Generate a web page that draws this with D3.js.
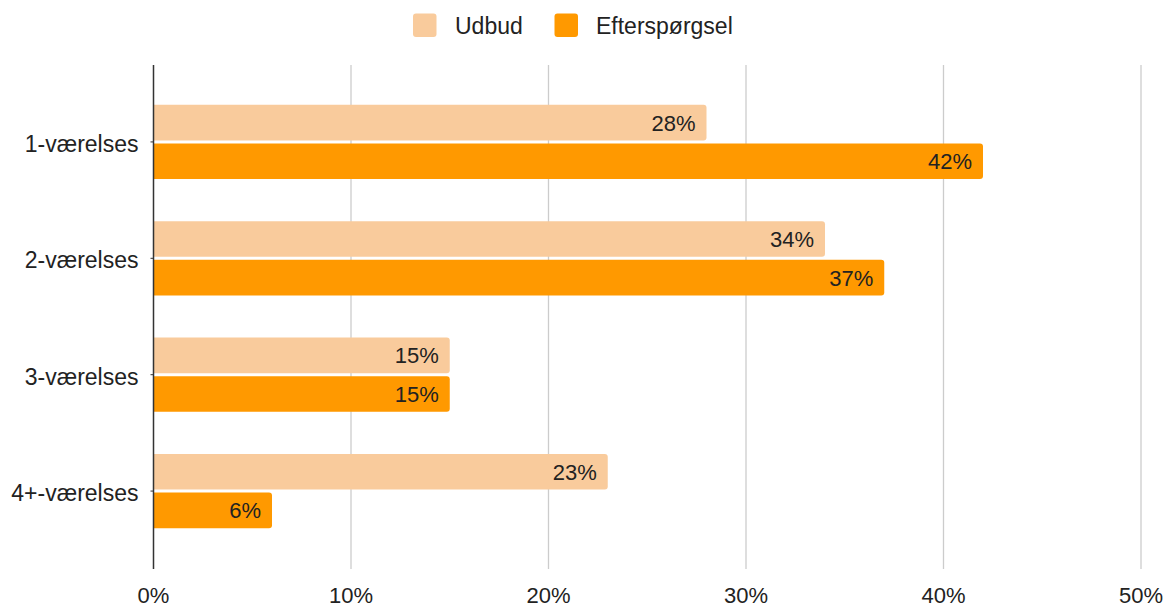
<!DOCTYPE html>
<html>
<head>
<meta charset="utf-8">
<script src="https://cdn.jsdelivr.net/npm/d3@7"></script>
<style>
  body { margin: 0; background: #fff; }
  text { font-family: "Liberation Sans", Arial, sans-serif; fill: #222; }
</style>
</head>
<body>
<div id="chart"></div>
<script>
// chart data
var categories = ["1-værelses", "2-værelses", "3-værelses", "4+-værelses"];
var seriesNames = ["Udbud", "Efterspørgsel"];
var udbud = [28, 34, 15, 23];
var efterspoergsel = [42, 37, 15, 6];
var xTicks = [0, 10, 20, 30, 40, 50];
var colors = ["#f9cb9c", "#ff9900"];

var width = 1167, height = 608;
var margin = {top: 65, bottom: 40, left: 153.5, right: 26};
var fontSize = "22px";

var svg = d3.select("#chart").append("svg")
  .attr("width", width)
  .attr("height", height);

var x = d3.scaleLinear()
  .domain([0, 50])
  .range([margin.left, width - margin.right]);

var y = d3.scaleBand()
  .domain(categories)
  .range([margin.top, height - margin.bottom])
  .paddingInner(0.362)
  .paddingOuter(0.342);

var ySub = d3.scaleBand()
  .domain(seriesNames)
  .range([0, y.bandwidth()])
  .paddingInner(0.08);

// gridlines
svg.append("g")
  .selectAll("line")
  .data(xTicks.slice(1))
  .enter().append("line")
  .attr("x1", function(d) { return x(d); })
  .attr("x2", function(d) { return x(d); })
  .attr("y1", margin.top)
  .attr("y2", height - margin.bottom + 1)
  .attr("stroke", "#cccccc")
  .attr("stroke-width", 1.3);

// x tick labels
svg.append("g")
  .selectAll("text")
  .data(xTicks)
  .enter().append("text")
  .attr("x", function(d) { return x(d); })
  .attr("y", 603)
  .attr("text-anchor", "middle")
  .style("font-size", fontSize)
  .text(function(d) { return d + "%"; });

// build rows
var rows = categories.map(function(c, i) {
  return {cat: c, values: [udbud[i], efterspoergsel[i]]};
});

var groups = svg.append("g")
  .selectAll("g")
  .data(rows)
  .enter().append("g")
  .attr("transform", function(d) { return "translate(0," + y(d.cat) + ")"; });

// bar with rounded right end
function barPath(x0, x1, y0, h, r) {
  return "M" + x0 + "," + y0 +
    "H" + (x1 - r) +
    "Q" + x1 + "," + y0 + " " + x1 + "," + (y0 + r) +
    "V" + (y0 + h - r) +
    "Q" + x1 + "," + (y0 + h) + " " + (x1 - r) + "," + (y0 + h) +
    "H" + x0 + "Z";
}

var bars = groups.selectAll("g.bar")
  .data(function(d) {
    return d.values.map(function(v, j) { return {name: seriesNames[j], value: v, idx: j}; });
  })
  .enter().append("g")
  .attr("class", "bar");

bars.append("path")
  .attr("d", function(d) {
    return barPath(x(0), x(d.value), ySub(d.name), ySub.bandwidth(), 3);
  })
  .attr("fill", function(d) { return colors[d.idx]; });

bars.append("text")
  .attr("x", function(d) { return x(d.value) - 11; })
  .attr("y", function(d) { return ySub(d.name) + ySub.bandwidth() / 2; })
  .attr("dy", "0.36em")
  .attr("text-anchor", "end")
  .style("font-size", fontSize)
  .text(function(d) { return d.value + "%"; });

// y axis
var yAxis = d3.axisLeft(y)
  .tickSize(3)
  .tickPadding(12);

var yG = svg.append("g")
  .attr("transform", "translate(" + margin.left + ",0)")
  .call(yAxis);

yG.select(".domain")
  .attr("d", "M0," + margin.top + "V" + (height - margin.bottom + 1))
  .attr("stroke", "#333")
  .attr("stroke-width", 1.5);
yG.selectAll(".tick line").attr("stroke", "#333");
yG.selectAll("text")
  .style("font-size", "23px")
  .attr("dy", "0.43em")
  .attr("fill", "#222");

// legend
var legendX = [413, 554.5];
var legend = svg.append("g")
  .selectAll("g")
  .data(seriesNames)
  .enter().append("g")
  .attr("transform", function(d, i) { return "translate(" + legendX[i] + ",13.5)"; });

legend.append("rect")
  .attr("width", 23.5)
  .attr("height", 23.5)
  .attr("rx", 3)
  .attr("fill", function(d, i) { return colors[i]; });

legend.append("text")
  .attr("x", function(d, i) { return i === 0 ? 42 : 41.5; })
  .attr("y", 20)
  .style("font-size", "23px")
  .text(function(d) { return d; });
</script>
</body>
</html>
